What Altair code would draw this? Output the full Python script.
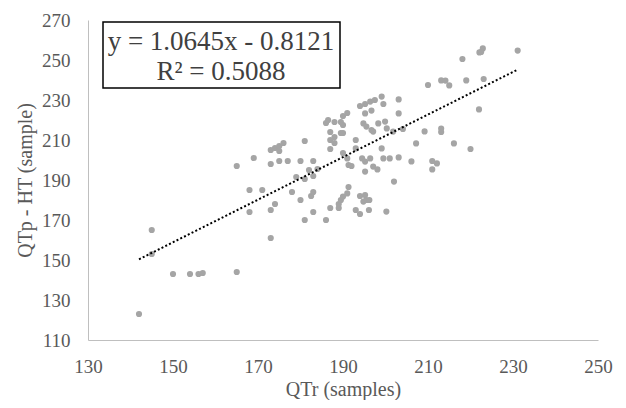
import altair as alt
import pandas as pd

qtr = [142, 145, 145, 150, 154, 156, 157, 165, 165, 168, 168, 169, 171, 173, 173, 173, 173,
       174, 174, 175, 175, 175, 176, 177, 178, 179, 180, 180, 181, 181, 181, 182, 182.5, 183,
       183, 183, 183, 184, 186, 186, 186.5, 187, 187, 187, 187, 188, 188, 188, 189, 189, 189.5,
       189.5, 189.5, 190, 190, 190, 190, 190, 191, 191, 191, 191.3, 191.3, 192, 193, 193, 193,
       194, 194, 194, 194.5, 194.8, 194.8, 195.2, 195.2, 195.2, 195.2, 195.2, 195.5, 195.5,
       196.2, 196.4, 196.4, 196.1, 196.7, 196.7, 197.1, 197.1, 197.5, 198.1, 198.3, 199.1,
       199.5, 199.1, 199.5, 199.9, 200.3, 200.2, 201, 201.8, 202, 203.1, 203.1, 203.1, 204.1,
       206.1, 207.2, 209.2, 210, 211, 211, 212.1, 213.1, 213.1, 213.1, 214.1, 215, 216.1,
       218.1, 219, 220, 222, 222.1, 222.9, 223.1, 231.1, 222.5]
qtp = [123, 165, 153, 143, 143, 143, 143.5, 144, 197, 185, 174, 201, 185, 161, 175, 198, 205,
       178, 206, 204.5, 207, 199.5, 208.5, 199.5, 184, 191.5, 199.5, 180, 190.5, 170, 209.5, 195,
       182, 192, 184, 199.5, 174, 195.5, 170, 218.5, 220, 214, 210, 205.5, 176, 219, 211.5, 208.5,
       176, 178, 219, 213.5, 180, 222, 217.5, 213.5, 203.5, 181.7, 223.5, 200.8, 183.3, 186.5,
       197.5, 197, 210, 205.8, 175, 227, 182, 173, 200.8, 218.3, 179.2, 228, 223.3, 199.2, 194.2,
       182.5, 216.7, 180, 180, 229.2, 200.8, 175, 224.7, 215, 214.2, 196.7, 230, 195.3, 218.3,
       231.7, 228, 205.8, 200.8, 219.2, 215.8, 174.2, 200.8, 214.2, 189.2, 230.3, 223.3, 201.3,
       215.5, 199.3, 208.3, 214.3, 237.5, 199.5, 195.3, 198.3, 215.7, 214, 239.8, 239.7, 237.3,
       208.3, 250.5, 239.8, 205.5, 225.3, 253.8, 255.8, 240.5, 254.7, 254]

slope = 1.0645
intercept = -0.8121
eq_lines = ["y = 1.0645x - 0.8121", "R² = 0.5088"]

x_ticks = [130, 150, 170, 190, 210, 230, 250]
y_ticks = [110, 130, 150, 170, 190, 210, 230, 250, 270]

pts = pd.DataFrame({"qtr": qtr, "qtp": qtp})
trend = pd.DataFrame({"qtr": [min(qtr), max(qtr)]})

font = "Liberation Serif"
grey_text = "#595959"

xs = alt.Scale(domain=[130, 250], nice=False, zero=False)
ys = alt.Scale(domain=[110, 270], nice=False, zero=False)

x_axis = alt.Axis(values=x_ticks, grid=False, ticks=False, domainColor="#BFBFBF",
                  labelFlush=False, labelOverlap=False,
                  labelFont=font, labelFontSize=19, labelColor=grey_text, labelPadding=17,
                  titleFont=font, titleFontSize=20, titleColor=grey_text, titleFontWeight="normal",
                  titlePadding=3)
y_axis = alt.Axis(values=y_ticks, grid=False, ticks=False, domainColor="#BFBFBF",
                  labelFlush=False, labelOverlap=False,
                  labelFont=font, labelFontSize=19, labelColor=grey_text, labelPadding=18,
                  titleFont=font, titleFontSize=20, titleColor=grey_text, titleFontWeight="normal",
                  titlePadding=6)

points = alt.Chart(pts).mark_circle(size=38, color="#A5A5A5", opacity=1).encode(
    x=alt.X("qtr:Q", scale=xs, axis=x_axis, title="QTr (samples)"),
    y=alt.Y("qtp:Q", scale=ys, axis=y_axis, title="QTp - HT (sample)"),
)

line = alt.Chart(trend).transform_calculate(
    fit=f"{slope} * datum.qtr + ({intercept})"
).mark_line(color="black", strokeWidth=2, strokeDash=[2, 2.2]).encode(
    x=alt.X("qtr:Q", scale=xs, axis=x_axis, title="QTr (samples)"),
    y=alt.Y("fit:Q", scale=ys, axis=y_axis, title="QTp - HT (sample)"),
)

one = pd.DataFrame({"a": [0]})
box = alt.Chart(one).mark_rect(
    fill="white", stroke="black", strokeWidth=1.5
).encode(x=alt.value(15), x2=alt.value(252), y=alt.value(2), y2=alt.value(68))

txt1 = alt.Chart(one).mark_text(
    font=font, fontSize=27, color="#404040", align="center", baseline="middle",
    text=eq_lines[0]
).encode(x=alt.value(133), y=alt.value(22))
txt2 = alt.Chart(one).mark_text(
    font=font, fontSize=27, color="#404040", align="center", baseline="middle",
    text=eq_lines[1]
).encode(x=alt.value(133), y=alt.value(52))

chart = alt.layer(points, line, box, txt1, txt2).properties(
    width=510, height=320,
    autosize=alt.AutoSizeParams(type="none"),
    padding={"left": 80, "top": 12, "right": 20, "bottom": 60},
).configure_view(stroke=None)

chart.save("out.html", embed_options={"renderer": "svg", "actions": False})
